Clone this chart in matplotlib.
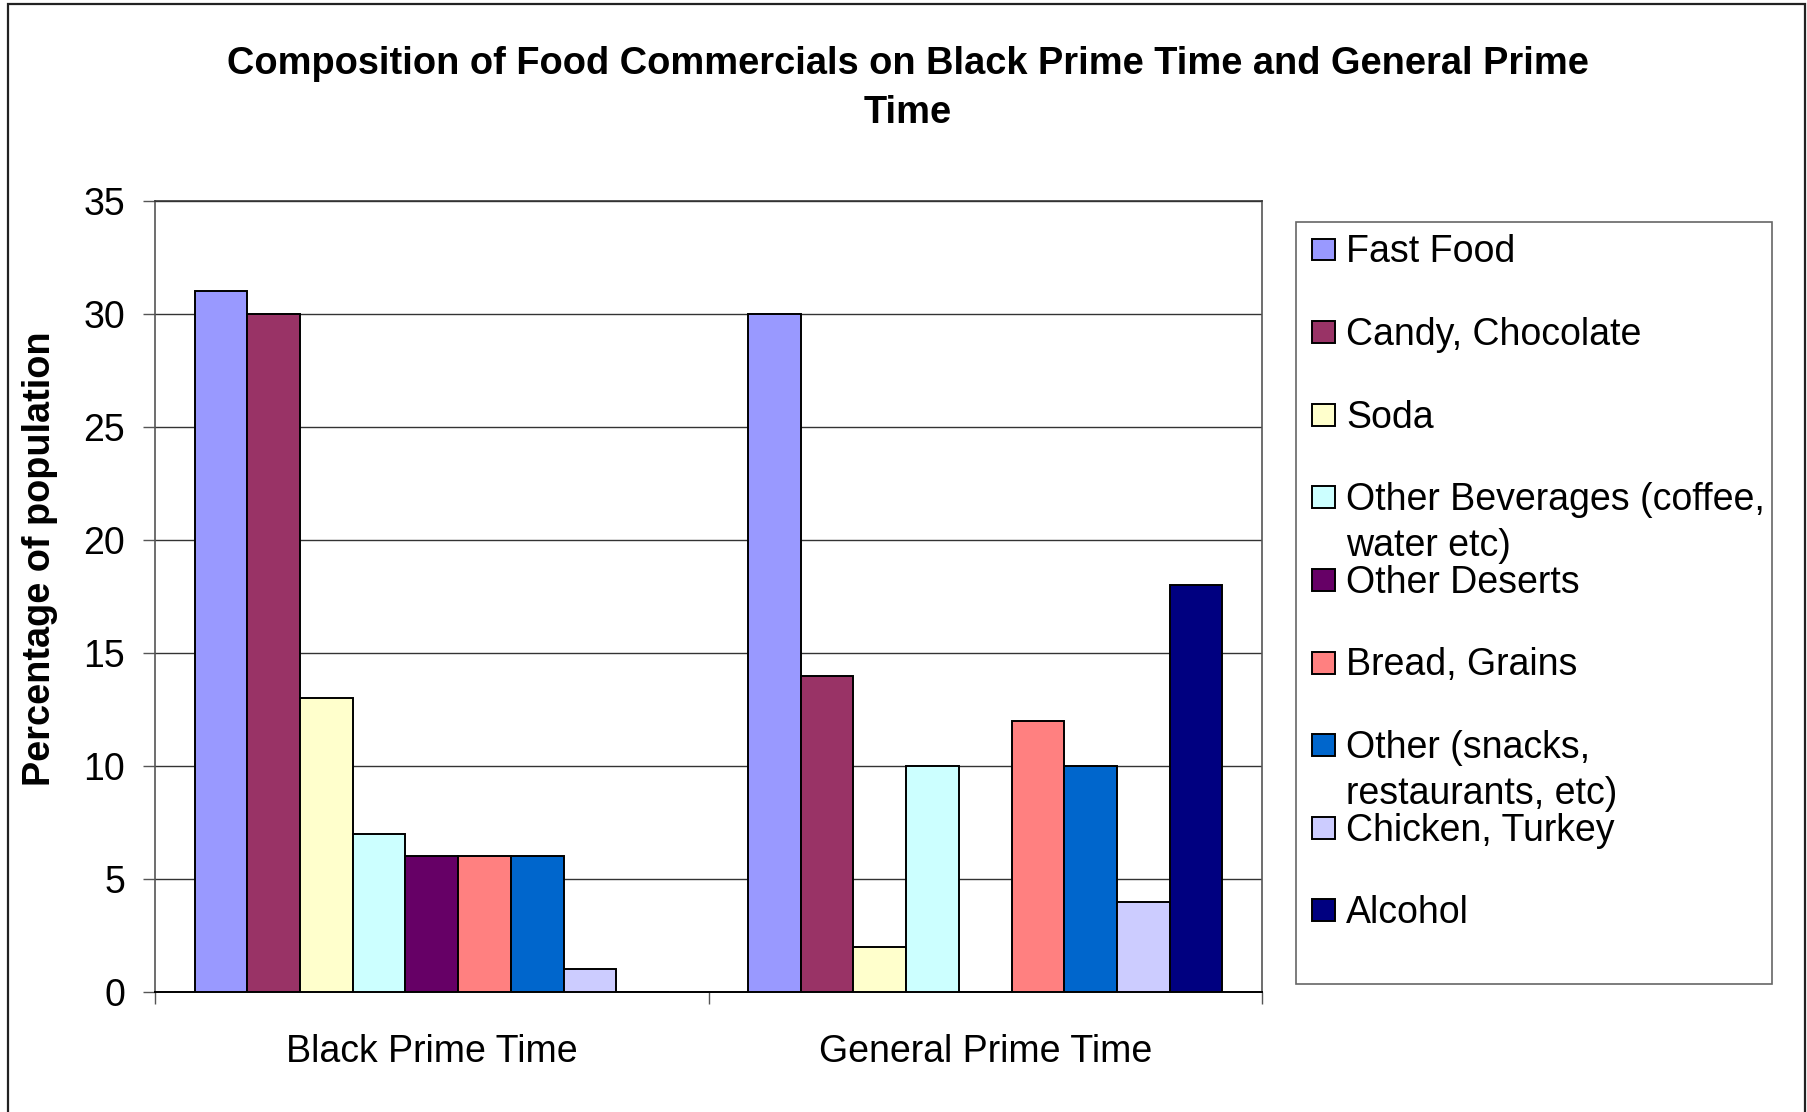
import matplotlib
matplotlib.use("Agg")
import matplotlib.pyplot as plt
from matplotlib.patches import Rectangle
import numpy as np

# ---- data ----
categories = ["Black Prime Time", "General Prime Time"]
series_labels = [
    "Fast Food",
    "Candy, Chocolate",
    "Soda",
    "Other Beverages (coffee,\nwater etc)",
    "Other Deserts",
    "Bread, Grains",
    "Other (snacks,\nrestaurants, etc)",
    "Chicken, Turkey",
    "Alcohol",
]
series_colors = ["#9999FF", "#993366", "#FFFFCC", "#CCFFFF", "#660066",
                 "#FF8080", "#0066CC", "#CCCCFF", "#000080"]
fast_food = [31, 30]
candy_chocolate = [30, 14]
soda = [13, 2]
other_beverages = [7, 10]
other_deserts = [6, 0]
bread_grains = [6, 12]
other_snacks = [6, 10]
chicken_turkey = [1, 4]
alcohol = [0, 18]
y_ticks = [0, 5, 10, 15, 20, 25, 30, 35]

series_values = [fast_food, candy_chocolate, soda, other_beverages, other_deserts,
                 bread_grains, other_snacks, chicken_turkey, alcohol]

# ---- layout helpers (pixel positions on a 1807x1112 canvas) ----
W, H, DPI = 1807, 1112, 100
FONT = "Liberation Sans"
FS = 27


def fx(px):
    return px / W


def fy(py):
    return 1 - py / H


fig = plt.figure(figsize=(W / DPI, H / DPI), dpi=DPI, facecolor="white")

# outer chart frame (open at the bottom edge)
fig.patches.append(Rectangle((fx(8), fy(1130)), fx(1805) - fx(8), fy(4) - fy(1130),
                             transform=fig.transFigure, fill=False,
                             edgecolor="#222222", linewidth=1.6))

ax = fig.add_axes([fx(155), fy(992), fx(1262) - fx(155), fy(201) - fy(992)])

n = len(series_values)
bar_w = 1.0 / (n + 1.5)
x = np.arange(len(categories))
for i, (vals, col) in enumerate(zip(series_values, series_colors)):
    ax.bar(x + (i - (n - 1) / 2) * bar_w, vals, width=bar_w, color=col,
           edgecolor="black", linewidth=1.4, zorder=3)

ax.set_xlim(-0.5, len(categories) - 0.5)
ax.set_ylim(0, 35)
ax.set_yticks(y_ticks)
ax.set_yticklabels([str(t) for t in y_ticks], fontsize=FS, family=FONT)
ax.yaxis.grid(True, color="#333333", linewidth=1.0, zorder=0)
ax.set_axisbelow(True)

ax.set_xticks(x)
ax.set_xticklabels(categories, fontsize=FS, family=FONT)
ax.set_xticks(np.arange(len(categories) + 1) - 0.5, minor=True)
ax.tick_params(axis="x", which="major", length=0, pad=30)
ax.tick_params(axis="x", which="minor", length=8.6, width=1.0, color="#555555",
               direction="out")
ax.tick_params(axis="y", length=8.6, width=1.0, color="#555555", direction="out",
               pad=13)

for side in ["left", "right", "top"]:
    ax.spines[side].set_color("#555555")
    ax.spines[side].set_linewidth(1.2)
ax.spines["top"].set_color("#333333")
ax.spines["bottom"].set_color("black")
ax.spines["bottom"].set_linewidth(1.4)

# title and axis label
fig.text(fx(908), fy(46), "Composition of Food Commercials on Black Prime Time and General Prime\nTime",
         ha="center", va="top", fontsize=27.4, fontweight="bold", family=FONT,
         linespacing=1.48, multialignment="center")
fig.text(fx(40), fy(559), "Percentage of population", rotation=90, ha="center",
         va="center", fontsize=27.3, fontweight="bold", family=FONT)

# legend box
fig.patches.append(Rectangle((fx(1296), fy(984)), fx(1772) - fx(1296), fy(222) - fy(984),
                             transform=fig.transFigure, fill=False,
                             edgecolor="#666666", linewidth=1.2))
for i, (lab, col) in enumerate(zip(series_labels, series_colors)):
    cy = 249.5 + i * 82.6
    fig.patches.append(Rectangle((fx(1312), fy(cy + 11)), fx(1335) - fx(1312),
                                 fy(cy - 11) - fy(cy + 11),
                                 transform=fig.transFigure, facecolor=col,
                                 edgecolor="black", linewidth=1.4))
    fig.text(fx(1346), fy(cy - 15), lab, ha="left", va="top", fontsize=FS,
             family=FONT, linespacing=1.34)

fig.savefig("out.png", dpi=DPI, facecolor="white")
